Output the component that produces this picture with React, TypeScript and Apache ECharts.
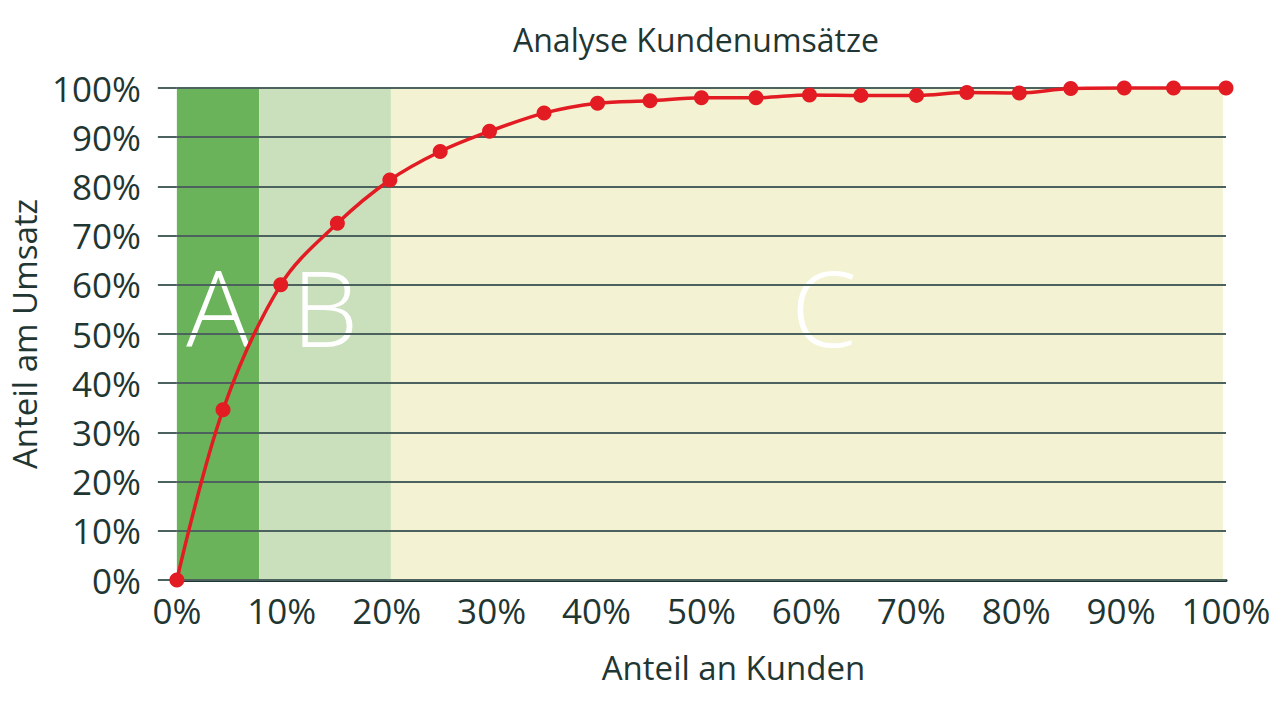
import React, { useEffect, useRef } from "react";
import * as echarts from "echarts";

const titleText = "Analyse Kundenumsätze";
const xAxisName = "Anteil an Kunden";
const yAxisName = "Anteil am Umsatz";

// share of customers (%) for each point
const customerShare = [0, 4.4, 9.9, 15.3, 20.3, 25.1, 29.8, 35.0, 40.1, 45.1, 50.0, 55.2, 60.3, 65.2, 70.5, 75.3, 80.3, 85.2, 90.3, 95.0, 100];
// cumulative share of revenue (%)
const revenueShare = [0, 34.6, 60.0, 72.5, 81.3, 87.1, 91.2, 94.9, 96.9, 97.4, 98.0, 98.0, 98.6, 98.5, 98.5, 99.1, 99.0, 99.9, 100, 100, 100];

const bandNames = ["A", "B", "C"];
const bandBounds = [0, 7.85, 20.4, 99.7];
const bandColors = ["#6bb35a", "#cadfbb", "#f3f2d2"];

const TEXT = "#1f3633";
const GRID = "#4b625f";
const FONT = "'Open Sans', 'Noto Sans', sans-serif";

export default function App() {
  const ref = useRef<HTMLDivElement>(null);
  useEffect(() => {
    if (!ref.current) return;
    const chart = echarts.init(ref.current, undefined, { renderer: "svg" });
    const points = customerShare.map((x, i) => [x, revenueShare[i]]);
    const labelOffsets = [[0, -28], [0, -28], [17, -28]];
    chart.setOption({
      animation: false,
      backgroundColor: "#ffffff",
      title: {
        text: titleText,
        left: 508,
        top: 18,
        textStyle: { fontFamily: FONT, fontSize: 32, fontWeight: "normal", color: TEXT },
      },
      grid: { left: 176, right: 54, top: 88, bottom: 141 },
      xAxis: {
        type: "value",
        min: 0,
        max: 100,
        interval: 10,
        name: xAxisName,
        nameLocation: "middle",
        nameGap: 71,
        nameTextStyle: { fontFamily: FONT, fontSize: 33, color: TEXT, padding: [0, 0, 0, 64] },
        axisLine: { show: true, lineStyle: { color: "#1e3431", width: 3 } },
        axisTick: { show: false },
        splitLine: { show: false },
        axisLabel: { formatter: "{value}%", fontFamily: FONT, fontSize: 35, color: TEXT, margin: 13 },
      },
      yAxis: {
        type: "value",
        min: 0,
        max: 100,
        interval: 10,
        name: yAxisName,
        nameLocation: "middle",
        nameGap: 124,
        nameRotate: 90,
        nameTextStyle: { fontFamily: FONT, fontSize: 33, color: TEXT },
        axisLine: { show: true, lineStyle: { color: GRID, width: 2, opacity: 0 } },
        axisTick: { show: true, inside: false, length: 19, lineStyle: { color: GRID, width: 2, opacity: 1 } },
        splitLine: { show: true, lineStyle: { color: GRID, width: 2 } },
        axisLabel: { formatter: "{value}%", fontFamily: FONT, fontSize: 35, color: TEXT, margin: 36 },
        z: 3,
      },
      series: [
        {
          name: "bands",
          type: "line",
          data: [],
          z: -1,
          silent: true,
          markArea: {
            silent: true,
            z: -1,
            data: bandNames.map((n, i) => [
              {
                name: n,
                xAxis: bandBounds[i],
                itemStyle: { color: bandColors[i], opacity: 1 },
                label: {
                  show: true,
                  position: "inside",
                  offset: labelOffsets[i],
                  color: "#ffffff",
                  fontFamily: FONT,
                  fontWeight: 300,
                  fontSize: 106,
                },
              },
              { xAxis: bandBounds[i + 1] },
            ]),
          },
        },
        {
          name: "Umsatz",
          type: "line",
          data: points,
          smooth: 0.35,
          clip: false,
          symbol: "circle",
          symbolSize: 15,
          lineStyle: { color: "#e31b23", width: 3.5 },
          itemStyle: { color: "#e31b23" },
          z: 5,
        },
      ],
    });
    return () => chart.dispose();
  }, []);
  return <div ref={ref} style={{ position: "absolute", left: 0, top: 0, width: 1280, height: 721 }} />;
}
